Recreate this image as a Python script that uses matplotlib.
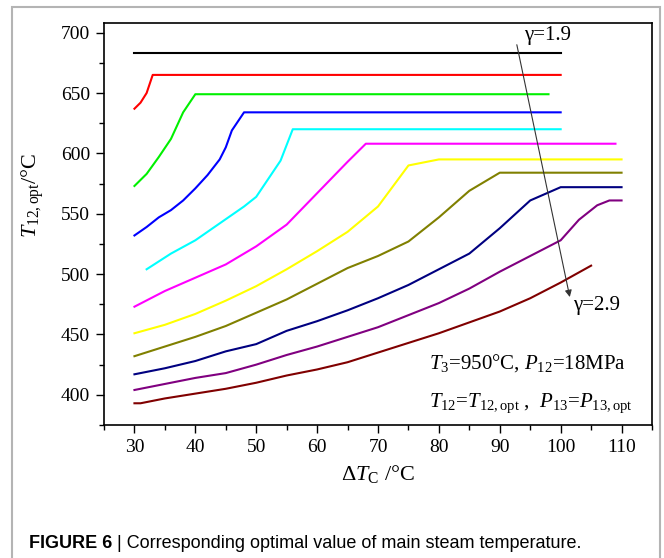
import matplotlib
matplotlib.use("Agg")
import matplotlib.pyplot as plt
from matplotlib.ticker import MultipleLocator
from matplotlib.patches import Rectangle

plt.rcParams['mathtext.fontset'] = 'custom'
plt.rcParams['mathtext.rm'] = 'Liberation Serif'
plt.rcParams['mathtext.it'] = 'Liberation Serif:italic'
plt.rcParams['font.family'] = ['Liberation Serif', 'DejaVu Serif']

# ---- data ----
x_black = [30, 100]
y_black = [683, 683]

x_red = [30, 31, 32, 33, 100]
y_red = [637, 642, 650, 665, 665]

x_green = [30, 32, 34, 36, 37, 38, 40, 98]
y_green = [573, 583, 597, 612, 623, 634, 649, 649]

x_blue = [30, 32, 34, 36, 38, 40, 42, 44, 45, 46, 48, 100]
y_blue = [532, 539, 547, 553, 561, 571, 582, 595, 605, 619, 634, 634]

x_cyan = [32, 36, 40, 44, 48, 50, 52, 54, 56, 100]
y_cyan = [504, 517, 528, 542, 556, 564, 579, 594, 620, 620]

x_magenta = [30, 35, 40, 45, 50, 55, 60, 65, 68, 109]
y_magenta = [473, 486, 497, 508, 523, 541, 567, 593, 608, 608]

x_yellow = [30, 35, 40, 45, 50, 55, 60, 65, 70, 75, 80, 110]
y_yellow = [451, 458, 467, 478, 490, 504, 519, 535, 556, 590, 595, 595]

x_olive = [30, 35, 40, 45, 50, 55, 60, 65, 70, 75, 80, 85, 90, 110]
y_olive = [432, 440, 448, 457, 468, 479, 492, 505, 515, 527, 547, 569, 584, 584]

x_navy = [30, 35, 40, 45, 50, 55, 60, 65, 70, 75, 80, 85, 90, 95, 100, 110]
y_navy = [417, 422, 428, 436, 442, 453, 461, 470, 480, 491, 504, 517, 538, 561, 572, 572]

x_purple = [30, 35, 40, 45, 50, 55, 60, 65, 70, 75, 80, 85, 90, 95, 100, 103, 106, 108, 110]
y_purple = [404, 409, 414, 418, 425, 433, 440, 448, 456, 466, 476, 488, 502, 515, 528, 545, 557, 561, 561]

x_wine = [30, 31, 35, 40, 45, 50, 55, 60, 65, 70, 75, 80, 85, 90, 95, 100, 105]
y_wine = [393, 393, 397, 401, 405, 410, 416, 421, 427, 435, 443, 451, 460, 469, 480, 493, 507]

series = [
    (x_black, y_black, '#000000'),
    (x_red, y_red, '#ff0000'),
    (x_green, y_green, '#00f000'),
    (x_blue, y_blue, '#0000ff'),
    (x_cyan, y_cyan, '#00ffff'),
    (x_magenta, y_magenta, '#ff00ff'),
    (x_yellow, y_yellow, '#ffff00'),
    (x_olive, y_olive, '#808000'),
    (x_navy, y_navy, '#000080'),
    (x_purple, y_purple, '#800080'),
    (x_wine, y_wine, '#800000'),
]

x_ticks = [30, 40, 50, 60, 70, 80, 90, 100, 110]
y_ticks = [400, 450, 500, 550, 600, 650, 700]

fig = plt.figure(figsize=(6.64, 5.58), dpi=100)
ax = fig.add_axes([104/664, 1-425/558, (652-104)/664, (425-23)/558])

for xs, ys, c in series:
    ax.plot(xs, ys, color=c, lw=1.5, solid_joinstyle='round')

ax.set_xlim(25, 115)
ax.set_ylim(375, 708)
ax.set_xticks(x_ticks)
ax.set_yticks(y_ticks)
ax.xaxis.set_minor_locator(MultipleLocator(5))
ax.yaxis.set_minor_locator(MultipleLocator(25))
ax.tick_params(which='major', direction='out', length=6, width=1.0, labelsize=14, pad=4)
ax.tick_params(which='minor', direction='out', length=3.5, width=1.0)
for s in ax.spines.values():
    s.set_linewidth(1.2)

ax.set_xlabel(r'$\Delta T_{\mathrm{C}}$ /°C', fontsize=16, labelpad=5)
ax.set_ylabel(r'$T_{\mathrm{12,opt}}$/°C', fontsize=16)
ax.yaxis.set_label_coords(-0.105, 0.57)

# annotations
ax.annotate('', xy=(101.5, 481), xytext=(92.8, 690),
            arrowprops=dict(arrowstyle='-|>', lw=0.8, color='#333333',
                            mutation_scale=10, shrinkA=0, shrinkB=0))
ax.text(94.0, 698, 'γ=1.9', fontsize=15, ha='left', va='center')
ax.text(102.0, 474, 'γ=2.9', fontsize=15, ha='left', va='center')
ax.text(78.4, 422, r'$T_3$=950°C, $P_{12}$=18MPa', fontsize=15, ha='left', va='baseline')
ax.text(78.4, 390, r'$T_{12}$=$T_{\mathrm{12,opt}}$ ,  $P_{13}$=$P_{\mathrm{13,opt}}$',
        fontsize=15, ha='left', va='baseline')

# outer grey frame
fig.add_artist(Rectangle((12/664, -0.05), (660-12)/664, 1-7/558+0.05,
                         transform=fig.transFigure, fill=False,
                         edgecolor='#b4b4b4', lw=1.5))

# caption
t1 = fig.text(29/664, 1-548/558, 'FIGURE 6', fontsize=13,
              family=['Liberation Sans', 'DejaVu Sans'], weight='bold', va='baseline')
ax.annotate(' | Corresponding optimal value of main steam temperature.',
            xy=(1, 0), xycoords=t1, va='bottom', ha='left', fontsize=13,
            family=['Liberation Sans', 'DejaVu Sans'], annotation_clip=False)

fig.savefig('out.png', dpi=100)
